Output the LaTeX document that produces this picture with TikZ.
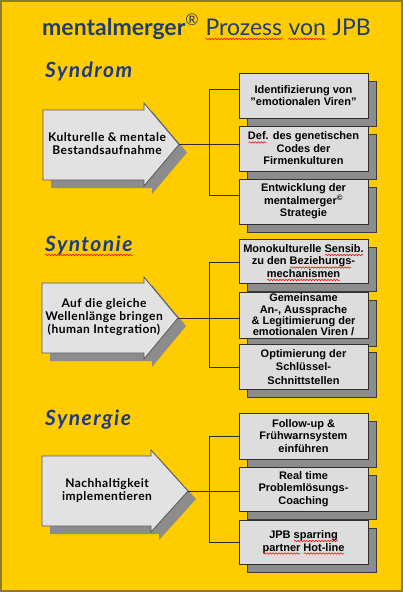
\documentclass[tikz,border=0pt]{standalone}
\usepackage{fontspec}
\setmainfont{Liberation Sans}
\newfontfamily\gill{Lato}
\usetikzlibrary{shadows,decorations.pathmorphing}
\definecolor{ybg}{HTML}{FFCC00}
\definecolor{yborder}{HTML}{8C7A2E}
\definecolor{navy}{HTML}{223C6E}
\definecolor{hblue}{HTML}{1E3A86}
\definecolor{agray}{HTML}{E2E2E2}
\definecolor{bgray}{HTML}{DDDDDD}
\definecolor{sgray}{HTML}{8C8C8C}
\definecolor{sdark}{HTML}{3A3A3A}
\definecolor{ldark}{HTML}{2E2E2E}
\begin{document}
\begin{tikzpicture}[x=1pt,y=-1pt,
  arrowsty/.style={fill=agray,draw=ldark!80,line width=0.8pt,line join=miter},
  ashadow/.style={fill=sgray},
  boxsty/.style={fill=bgray,draw=ldark,line width=0.8pt,minimum width=129pt,inner sep=0pt,
     align=center,font=\fontsize{11}{12.5}\selectfont\bfseries,
     drop shadow={shadow xshift=8pt,shadow yshift=-8pt,fill=sgray,draw=sdark,line width=0.6pt,opacity=1}},
  atext/.style={align=center,inner sep=0pt,font=\gill\bfseries\fontsize{12}{13}\selectfont\addfontfeature{LetterSpace=4}},
  heading/.style={anchor=base west,inner sep=0pt,text=hblue,font=\gill\bfseries\itshape\fontsize{21}{21}\selectfont\addfontfeature{LetterSpace=7}},
  titlesty/.style={anchor=base west,inner sep=0pt,text=navy,font=\gill\fontsize{23}{23}\selectfont},
  conn/.style={draw=ldark,line width=0.8pt},
  squig/.style={draw=red,line width=0.5pt,decorate,decoration={snake,amplitude=0.8pt,segment length=3pt}}]
% background
\path[fill=ybg,draw=yborder,line width=2pt] (1,1) rectangle (402,591);
\useasboundingbox (0,0) rectangle (403,592);
% title
\node[titlesty] (tm) at (42,35) {\textbf{mentalmerger}\textsuperscript{®}};
\node[titlesty,xshift=6pt] (tp) at (tm.base east) {Prozess};
\node[titlesty,xshift=6pt] (tv) at (tp.base east) {von};
\node[titlesty,xshift=6pt] (tj) at (tv.base east) {JPB};
\draw[squig] ([yshift=-4pt]tp.base west) -- ([yshift=-4pt]tp.base east);
\draw[squig] ([yshift=-4pt]tv.base west) -- ([yshift=-4pt]tv.base east);
% headings
\node[heading] (h1) at (45,77) {Syndrom};
\node[heading] (h2) at (45,251) {Syntonie};
\node[heading] (h3) at (45,425) {Synergie};
\draw[squig] ([yshift=-4pt]h2.base west) -- ([yshift=-4pt]h2.base east);
% ---------- arrows ----------
\path[ashadow] (51,118) -- (152,118) -- (152,111) -- (187,152.5) -- (152,194) -- (152,188) -- (51,188) -- cycle;
\path[arrowsty] (43,110) -- (144,110) -- (144,103) -- (179,144.5) -- (144,186) -- (144,180) -- (43,180) -- cycle;
\coordinate (t1) at (179,144.5);
\node[atext] (a1) at (107,144) {Kulturelle \& mentale\\Bestandsaufnahme};

\path[ashadow] (50,291) -- (152,291) -- (152,285) -- (186,326) -- (152,367) -- (152,361) -- (50,361) -- cycle;
\path[arrowsty] (42,283) -- (144,283) -- (144,277) -- (178,318) -- (144,359) -- (144,353) -- (42,353) -- cycle;
\coordinate (t2) at (178,318);
\node[atext] (a2) at (104,317) {Auf die gleiche\\Wellenlänge bringen\\(human Integration)};

\path[ashadow] (50,464) -- (159,464) -- (159,458) -- (196,499) -- (159,540) -- (159,534) -- (50,534) -- cycle;
\path[arrowsty] (42,456) -- (151,456) -- (151,450) -- (188,491) -- (151,532) -- (151,526) -- (42,526) -- cycle;
\coordinate (t3) at (188,491);
\node[atext] (a3) at (107,491) {Nachhaltigkeit\\implementieren};
% ---------- connectors ----------
\coordinate (j1) at (209,144.5);
\coordinate (u1) at (209,89);
\coordinate (d1) at (209,195);
\draw[conn] (t1) -- (j1);
\draw[conn] (u1) -- (d1);
\coordinate (j2) at (209,318);
\coordinate (u2) at (209,262);
\coordinate (d2) at (209,367);
\draw[conn] (t2) -- (j2);
\draw[conn] (u2) -- (d2);
\coordinate (j3) at (209,491);
\coordinate (u3) at (209,436);
\coordinate (d3) at (209,542);
\draw[conn] (t3) -- (j3);
\draw[conn] (u3) -- (d3);
\coordinate (e11) at (239,89);
\coordinate (e12) at (239,144.5);
\coordinate (e13) at (239,195);
\coordinate (e21) at (239,262);
\coordinate (e22) at (239,318);
\coordinate (e23) at (239,367);
\coordinate (e31) at (239,436);
\coordinate (e32) at (239,491);
\coordinate (e33) at (239,542);
\draw[conn] (u1) -- (e11); \draw[conn] (j1) -- (e12); \draw[conn] (d1) -- (e13);
\draw[conn] (u2) -- (e21); \draw[conn] (j2) -- (e22); \draw[conn] (d2) -- (e23);
\draw[conn] (u3) -- (e31); \draw[conn] (j3) -- (e32); \draw[conn] (d3) -- (e33);
% ---------- boxes ----------
\node[boxsty,minimum height=45pt] (b11) at (303.5,95.5) {Identifizierung von\\\char34 emotionalen Viren\char34};
\node[boxsty,minimum height=45pt] (b12) at (303.5,148.5) {Def. des genetischen\\Codes der\\Firmenkulturen};
\node[boxsty,minimum height=45pt] (b13) at (303.5,201.5) {Entwicklung der\\mentalmerger\textsuperscript{©}\\Strategie};

\node[boxsty,minimum height=44pt] (b21) at (303.5,261) {Monokulturelle Sensib.\\zu den Beziehungs-\\mechanismen};
\node[boxsty,minimum height=46pt,font=\fontsize{11}{11.3}\selectfont\bfseries] (b22) at (303.5,315) {Gemeinsame\\An-, Aussprache\\\& Legitimierung der\\emotionalen Viren /};
\node[boxsty,minimum height=45pt,font=\fontsize{11}{13.5}\selectfont\bfseries] (b23) at (303.5,367) {Optimierung der\\Schlüssel-\\Schnittstellen};

\node[boxsty,minimum height=46pt] (b31) at (303.5,436) {Follow-up \&\\Frühwarnsystem\\einführen};
\node[boxsty,minimum height=44pt] (b32) at (303.5,489) {Real time\\Problemlösungs-\\Coaching};
\node[boxsty,minimum height=44pt] (b33) at (303.5,542) {JPB sparring\\partner Hot-line};
% spell-check marks inside boxes
\draw[squig] (248.5,142.5) -- (266,142.5);
\draw[squig] (325,255) -- (363,255);
\draw[squig] (290,267.5) -- (351,267.5);
\draw[squig] (267,280) -- (340,280);
\draw[squig] (294,541) -- (338,541);
\draw[squig] (263,553.5) -- (300,553.5);
\draw[squig] (304,553.5) -- (344,553.5);
\end{tikzpicture}
\end{document}
